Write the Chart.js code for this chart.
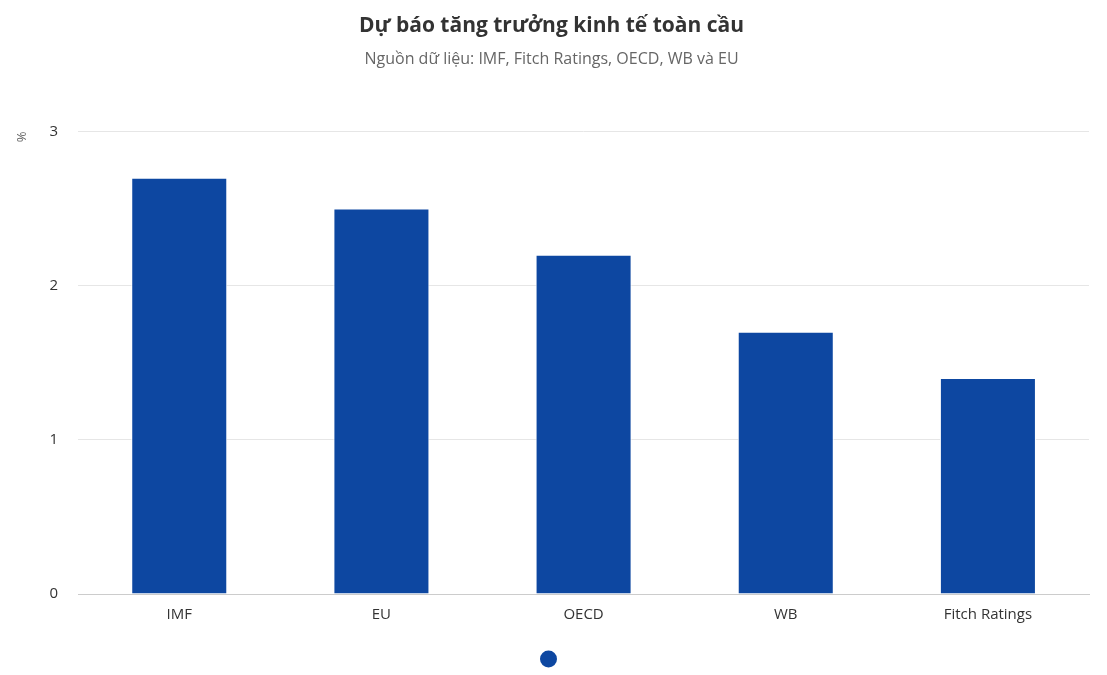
<!DOCTYPE html>
<html>
<head>
<meta charset="utf-8">
<script src="https://cdn.jsdelivr.net/npm/chart.js@4/dist/chart.umd.min.js"></script>
<style>
  html, body { margin: 0; padding: 0; background: #fff; }
  #wrap { width: 1107px; height: 675px; }
</style>
</head>
<body>
<div id="wrap"><canvas id="canvas"></canvas></div>
<script>
const categories = ["IMF", "EU", "OECD", "WB", "Fitch Ratings"];
const growth = [2.7, 2.5, 2.2, 1.7, 1.4];
const yTicks = [0, 1, 2, 3];

const barColor = "#0d47a1";

new Chart(document.getElementById("canvas").getContext("2d"), {
  type: "bar",
  data: {
    labels: categories,
    datasets: [{
      label: "",
      data: growth,
      backgroundColor: barColor,
      borderColor: "#ffffff",
      borderWidth: 1,
      categoryPercentage: 1,
      barPercentage: 0.475
    }]
  },
  options: {
    responsive: true,
    maintainAspectRatio: false,
    animation: false,
    layout: { padding: { left: 14, right: 18, top: 8, bottom: 0 } },
    plugins: {
      title: {
        display: true,
        text: "Dự báo tăng trưởng kinh tế toàn cầu",
        color: "#333333",
        font: { family: "Open Sans", size: 21, weight: "bold" },
        padding: { top: 5, bottom: 8 }
      },
      subtitle: {
        display: true,
        text: "Nguồn dữ liệu: IMF, Fitch Ratings, OECD, WB và EU",
        color: "#666666",
        font: { family: "Open Sans", size: 16 },
        padding: { top: 4, bottom: 62 }
      },
      legend: {
        position: "bottom",
        labels: {
          usePointStyle: true,
          pointStyle: "circle",
          boxWidth: 12,
          boxHeight: 12,
          padding: 17,
          font: { size: 12 },
          generateLabels: () => [{
            text: "",
            fillStyle: barColor,
            strokeStyle: barColor,
            lineWidth: 0,
            pointStyle: "circle",
            datasetIndex: 0
          }]
        }
      },
      tooltip: { enabled: false }
    },
    scales: {
      x: {
        grid: { display: false, drawTicks: false },
        border: { color: "#cccccc", width: 1 },
        ticks: { color: "#333333", font: { family: "Open Sans", size: 15 }, padding: 12 }
      },
      y: {
        min: 0,
        max: 3,
        afterBuildTicks: (axis) => { axis.ticks = yTicks.map(v => ({ value: v })); },
        grid: { color: "#e6e6e6", drawTicks: false },
        border: { display: false },
        ticks: { color: "#333333", font: { family: "Open Sans", size: 15 }, padding: 20 },
        title: {
          display: true,
          text: "%",
          align: "end",
          color: "#666666",
          font: { family: "Open Sans", size: 13 },
          padding: { top: 0, bottom: 0 }
        }
      }
    }
  }
});
</script>
</body>
</html>
